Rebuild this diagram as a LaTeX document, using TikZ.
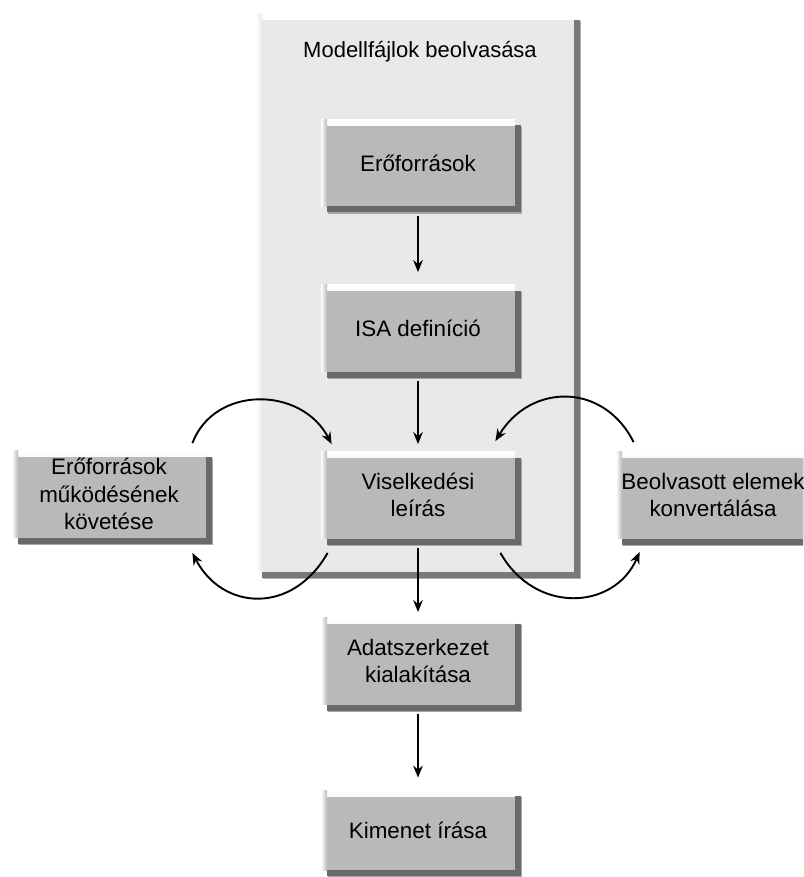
\documentclass[tikz,border=0pt]{standalone}
\usepackage{fontspec}
\setmainfont{Liberation Sans}
\usetikzlibrary{arrows.meta}

\definecolor{facegray}{HTML}{B9B9B9}
\definecolor{panelgray}{HTML}{E9E9E9}
\definecolor{shadowgray}{HTML}{6A6A6A}
\definecolor{panelshadow}{HTML}{787878}

\tikzset{
  x=0.5pt, y=-0.5pt,
  % raised grey button with a dark lower/right edge and a light upper/left edge
  raised/.style 2 args={
    fill=#1, inner sep=0pt,
    preaction={fill=#2!60!white, transform canvas={shift={(3.6pt,-3.6pt)}}},
    preaction={fill=#2, transform canvas={shift={(3pt,-3pt)}}},
    path picture={
      \shade[top color=white, bottom color=#1]
        (path picture bounding box.north west) rectangle
        ([yshift=-3pt]path picture bounding box.north east);
      \shade[left color=white, right color=#1]
        (path picture bounding box.north west) rectangle
        ([xshift=3pt]path picture bounding box.south west);
    }
  },
  stepbox/.style={raised={facegray}{shadowgray},
    minimum width=97pt, minimum height=43.5pt, align=center,
    font=\fontsize{11.2}{13.6}\selectfont},
  panelbox/.style={raised={panelgray}{panelshadow},
    minimum width=159pt, minimum height=279pt},
  flow/.style={-{Stealth[length=6pt,width=4.8pt,inset=2pt]}, line width=0.95pt,
    shorten <=4.5pt},
  loop/.style={-{Stealth[length=6pt,width=4.8pt,inset=2pt]}, line width=0.95pt}
}

\begin{document}
\begin{tikzpicture}
  \useasboundingbox (0,0) rectangle (803,877);
  \clip (0,0) rectangle (803,877);

  % grouping panel
  \node[panelbox] (panel) at (415,293) {};
  \node[font=\fontsize{11}{13.6}\selectfont] (title) at (420,52) {Modellfájlok beolvasása};

  % processing steps
  \node[stepbox] (res)  at (418,163) {Erőforrások};
  \node[stepbox] (isa)  at (418,328) {ISA definíció};
  \node[stepbox] (beh)  at (418,495) {Viselkedési\\leírás};
  \node[stepbox] (data) at (418,661) {Adatszerkezet\\kialakítása};
  \node[stepbox, minimum height=40pt] (out) at (418,830) {Kimenet írása};
  \node[stepbox] (track) at (109,494) {Erőforrások\\működésének\\követése};
  \node[stepbox] (conv)  at (713,495) {Beolvasott elemek\\konvertálása};

  % main chain
  \draw[flow, shorten >=6pt]   (res)  -- (isa);
  \draw[flow, shorten >=3.5pt] (isa)  -- (beh);
  \draw[flow, shorten >=2.5pt] (beh)  -- (data);
  \draw[flow, shorten >=6pt]   (data) -- (out);

  % loops between the behaviour description and the side tasks
  \coordinate (t1) at ([xshift=-7pt,yshift=3.5pt]track.north east);
  \coordinate (b1) at ([xshift=5.5pt,yshift=3.5pt]beh.north west);
  \draw[loop] (t1) .. controls +(22,-58) and +(-30,-58) .. (b1);

  \coordinate (c1) at ([xshift=9pt,yshift=4.5pt]conv.north west);
  \coordinate (b2) at ([xshift=-10pt,yshift=5pt]beh.north east);
  \draw[loop] (c1) .. controls +(-30,-60) and +(35,-58) .. (b2);

  \coordinate (b3) at ([xshift=3.5pt,yshift=-7pt]beh.south west);
  \coordinate (t2) at ([xshift=-7pt,yshift=-7.5pt]track.south east);
  \draw[loop] (b3) .. controls +(-35,62) and +(30,58) .. (t2);

  \coordinate (b4) at ([xshift=-7.5pt,yshift=-7pt]beh.south east);
  \coordinate (c2) at ([xshift=12pt,yshift=-6.5pt]conv.south west);
  \draw[loop] (b4) .. controls +(35,62) and +(-25,58) .. (c2);
\end{tikzpicture}
\end{document}
